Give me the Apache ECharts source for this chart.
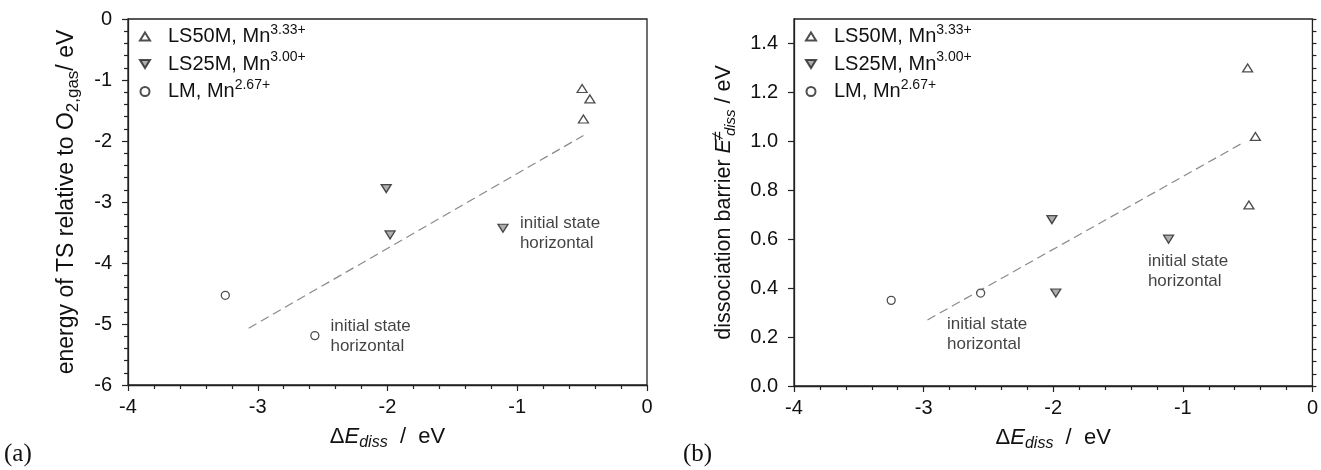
<!DOCTYPE html>
<html>
<head>
<meta charset="utf-8">
<script src="https://cdn.jsdelivr.net/npm/echarts@6/dist/echarts.min.js"></script>
<style>html,body{margin:0;padding:0;background:#fff}#c{width:1321px;height:470px}</style>
</head>
<body>
<div id="c"></div>
<script>
// ---- data ----
const seriesNames = ['LS50M', 'LS25M', 'LM'];
const oxStates = ['3.33+', '3.00+', '2.67+'];

const dE_LS50M = [-0.50, -0.44, -0.49];
const ts_LS50M = [-1.14, -1.31, -1.64];
const barrier_LS50M = [1.30, 1.02, 0.74];

const dE_LS25M = [-2.01, -1.98, -1.11];
const ts_LS25M = [-2.78, -3.54, -3.43];
const barrier_LS25M = [0.68, 0.38, 0.60];

const dE_LM = [-3.25, -2.56];
const ts_LM = [-4.53, -5.19];
const barrier_LM = [0.35, 0.38];

const fitA_x = [-3.07, -0.49];
const fitA_y = [-5.07, -1.91];
const fitB_x = [-2.97, -0.55];
const fitB_y = [0.27, 0.99];

const noteText = 'initial state\nhorizontal';
const notesA_x = [-2.44, -0.98];
const notesA_y = [-5.20, -3.52];
const notesB_x = [-2.82, -1.27];
const notesB_y = [0.21, 0.47];

// ---- build ----
const FONT = 'Liberation Sans, Arial, sans-serif';
const AX = '#222';
const zip = (xs, ys) => xs.map((x, i) => [x, ys[i]]);

const symStyle = {
  LS50M: { symbol: 'triangle', symbolSize: [10, 8], symbolRotate: 0, itemStyle: { color: '#fff', borderColor: AX, borderWidth: 1.3 } },
  LS25M: { symbol: 'triangle', symbolSize: [10, 8], symbolRotate: 180, itemStyle: { color: '#9a9a9a', borderColor: AX, borderWidth: 1.3 } },
  LM: { symbol: 'circle', symbolSize: 8, symbolRotate: 0, itemStyle: { color: '#fff', borderColor: AX, borderWidth: 1.3 } }
};
const pointsA = { LS50M: zip(dE_LS50M, ts_LS50M), LS25M: zip(dE_LS25M, ts_LS25M), LM: zip(dE_LM, ts_LM) };
const pointsB = { LS50M: zip(dE_LS50M, barrier_LS50M), LS25M: zip(dE_LS25M, barrier_LS25M), LM: zip(dE_LM, barrier_LM) };

const series = [];
[[pointsA, 0], [pointsB, 1]].forEach(([pts, gi]) => {
  seriesNames.forEach(n => {
    series.push(Object.assign({
      type: 'scatter', name: n, xAxisIndex: gi, yAxisIndex: gi === 0 ? 0 : 1,
      data: pts[n], z: 5
    }, symStyle[n]));
  });
});
series.push({
  type: 'line', name: 'fitA', xAxisIndex: 0, yAxisIndex: 0, data: zip(fitA_x, fitA_y),
  showSymbol: false, symbol: 'none', lineStyle: { color: '#8a8a8a', width: 1.2, type: [9, 5] }, z: 3
});
series.push({
  type: 'line', name: 'fitB', xAxisIndex: 1, yAxisIndex: 1, data: zip(fitB_x, fitB_y),
  showSymbol: false, symbol: 'none', lineStyle: { color: '#8a8a8a', width: 1.2, type: [9, 5] }, z: 3
});
const noteLabel = {
  show: true, position: 'right', distance: 0, formatter: noteText,
  color: '#111', fontFamily: FONT, fontSize: 17, lineHeight: 20, align: 'left', verticalAlign: 'middle'
};
series.push({ type: 'scatter', name: 'notesA', xAxisIndex: 0, yAxisIndex: 0, symbolSize: 0.1,
  data: zip(notesA_x, notesA_y), label: noteLabel, itemStyle: { color: 'transparent' }, silent: true });
series.push({ type: 'scatter', name: 'notesB', xAxisIndex: 1, yAxisIndex: 1, symbolSize: 0.1,
  data: zip(notesB_x, notesB_y), label: noteLabel, itemStyle: { color: 'transparent' }, silent: true });

const txt = { fontFamily: FONT, fontSize: 20, color: '#111' };
function makeRich(fs) {
  return {
    t: { fontFamily: FONT, fontSize: fs, color: '#111', lineHeight: Math.round(fs * 1.3) },
    it: { fontFamily: FONT, fontSize: fs, color: '#111', lineHeight: Math.round(fs * 1.3), fontStyle: 'italic' },
    sub: { fontFamily: FONT, fontSize: Math.round(fs * 0.72), color: '#111', lineHeight: Math.round(fs * 0.72), verticalAlign: 'bottom' },
    subi: { fontFamily: FONT, fontSize: Math.round(fs * 0.72), color: '#111', lineHeight: Math.round(fs * 0.72), verticalAlign: 'bottom', fontStyle: 'italic' },
    sup: { fontFamily: FONT, fontSize: Math.round(fs * 0.68), color: '#111', lineHeight: Math.round(fs * 0.5), verticalAlign: 'top' },
    supz: { fontFamily: FONT, fontSize: Math.round(fs * 0.8), color: '#111', lineHeight: Math.round(fs * 0.5), verticalAlign: 'top', width: 0, align: 'left', padding: [0, 0, 0, 3] },
    g: { width: 13, lineHeight: Math.round(fs * 1.3) }
  };
}
const richL = makeRich(20);
const richYA = makeRich(23);
const richYB = makeRich(21.5);
const richX = makeRich(22);

function xAxisCfg(gi) {
  return {
    type: 'value', gridIndex: gi, min: -4, max: 0, interval: 1,
    name: '{t|Δ}{it|E}{subi|diss}{t|  /  eV}', nameLocation: 'middle', nameGap: 37,
    nameTextStyle: { rich: richX, verticalAlign: 'top' },
    axisLine: { show: true, onZero: false, lineStyle: { color: AX, width: 1.3 } },
    axisTick: { show: true, inside: false, length: 6, lineStyle: { color: AX, width: 1.2 } },
    minorTick: { show: true, splitNumber: 5, length: 4, lineStyle: { color: AX, width: 1.2 } },
    axisLabel: Object.assign({ margin: 12 }, txt),
    splitLine: { show: false }, minorSplitLine: { show: false }
  };
}

const option = {
  animation: false,
  backgroundColor: '#fff',
  grid: [
    { left: 128, top: 19, width: 519, height: 366, show: true, borderColor: AX, borderWidth: 1.3, backgroundColor: 'transparent' },
    { left: 794, top: 19, width: 520, height: 367, show: true, borderColor: AX, borderWidth: 1.3, backgroundColor: 'transparent' }
  ],
  xAxis: [xAxisCfg(0), xAxisCfg(1)],
  yAxis: [
    {
      type: 'value', gridIndex: 0, min: -6, max: 0, interval: 1,
      name: '{t|energy of TS relative to O}{sub|2,gas}{t|/ eV}', nameLocation: 'middle', nameGap: 46, nameRotate: 90,
      nameTextStyle: { rich: richYA },
      axisLine: { show: true, onZero: false, lineStyle: { color: AX, width: 1.3 } },
      axisTick: { show: true, length: 6, lineStyle: { color: AX, width: 1.2 } },
      minorTick: { show: true, splitNumber: 5, length: 4, lineStyle: { color: AX, width: 1.2 } },
      axisLabel: Object.assign({ margin: 16 }, txt),
      splitLine: { show: false }, minorSplitLine: { show: false }
    },
    {
      type: 'value', gridIndex: 1, min: 0, max: 1.5, interval: 0.2,
      name: '{t|dissociation barrier }{it|E}{supz|≠}{subi|diss}{t| / eV}', nameLocation: 'middle', nameGap: 56, nameRotate: 90,
      nameTextStyle: { rich: richYB },
      axisLine: { show: true, onZero: false, lineStyle: { color: AX, width: 1.3 } },
      axisTick: { show: true, length: 6, lineStyle: { color: AX, width: 1.2 } },
      axisLabel: Object.assign({ margin: 16, showMaxLabel: false, formatter: v => v.toFixed(1) }, txt),
      splitLine: { show: false }
    },
    {
      type: 'value', gridIndex: 1, min: 0, max: 1.5, interval: 0.05,
      axisLine: { show: false },
      axisTick: { show: true, length: 4, lineStyle: { color: AX, width: 1.2 } },
      axisLabel: { show: false },
      splitLine: { show: false }
    }
  ],
  legend: [0, 1].map(i => ({
    orient: 'vertical', left: i === 0 ? 139 : 805, top: 23, padding: 0, itemGap: 4,
    itemWidth: 10, itemHeight: 9,
    data: [
      { name: 'LS50M', icon: 'path://M5,0 L10,8 L0,8 Z' },
      { name: 'LS25M', icon: 'path://M0,0 L10,0 L5,8 Z' },
      { name: 'LM', icon: 'circle' }
    ],
    formatter: n => '{g|}{t|' + n + ', Mn}{sup|' + oxStates[seriesNames.indexOf(n)] + '}',
    textStyle: { rich: Object.assign({}, richL, {
      t: Object.assign({}, richL.t, { lineHeight: 27 }),
      g: { width: 13, lineHeight: 27 }
    }) },
    selectedMode: false
  })),
  graphic: [
    { type: 'text', left: 4, top: 442, style: { text: '(a)', font: '25px "Liberation Serif", "Times New Roman", serif', fill: '#111' } },
    { type: 'text', left: 683, top: 442, style: { text: '(b)', font: '25px "Liberation Serif", "Times New Roman", serif', fill: '#111' } }
  ],
  series: series
};

const chart = echarts.init(document.getElementById('c'), null, { renderer: 'canvas' });
chart.setOption(option);
</script>
</body>
</html>
